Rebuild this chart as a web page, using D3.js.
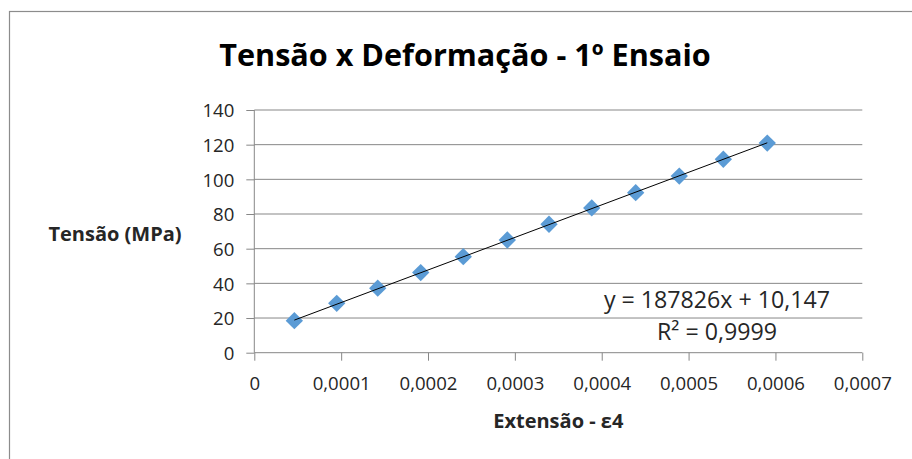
<!DOCTYPE html>
<html>
<head>
<meta charset="utf-8">
<script src="https://cdn.jsdelivr.net/npm/d3@7/dist/d3.min.js"></script>
<style>
  html, body { margin: 0; padding: 0; background: #fff; }
  svg { display: block; }
  text { font-family: "Open Sans", "Noto Sans", sans-serif; }
</style>
</head>
<body>
<svg id="chart" width="912" height="459"></svg>
<script>
// ---- data ----
const strainValues = [0.0000461, 0.0000949, 0.0001421, 0.0001916, 0.0002406, 0.0002913,
                      0.0003393, 0.0003885, 0.0004391, 0.0004893, 0.0005400, 0.0005906];
const stressValues = [18.5, 28.5, 37.2, 46.2, 55.4, 65.0, 74.1, 83.5, 92.3, 101.9, 111.6, 120.9];
const xTickValues = [0, 0.0001, 0.0002, 0.0003, 0.0004, 0.0005, 0.0006, 0.0007];
const xTickLabels = ["0", "0,0001", "0,0002", "0,0003", "0,0004", "0,0005", "0,0006", "0,0007"];
const yTickValues = [0, 20, 40, 60, 80, 100, 120, 140];
const yTickLabels = ["0", "20", "40", "60", "80", "100", "120", "140"];
const trendSlope = 187826;
const trendIntercept = 10.147;
const titleText = "Tensão x Deformação - 1º Ensaio";
const xAxisTitle = "Extensão - ε4";
const yAxisTitle = "Tensão (MPa)";
const equationLines = ["y = 187826x + 10,147", "R² = 0,9999"];

// ---- layout ----
const svg = d3.select("#chart");
const plot = { left: 254.3, right: 862.3, top: 110, bottom: 352.7 };
const gridColor = "#878787";
const textColor = "#262626";

// outer chart frame (runs off right and bottom edges)
svg.append("rect")
  .attr("x", 9.5).attr("y", 11.5)
  .attr("width", 1000).attr("height", 1000)
  .attr("fill", "none").attr("stroke", "#8c8c8c").attr("stroke-width", 1.2);

const x = d3.scaleLinear().domain([0, 0.0007]).range([plot.left, plot.right]);
const y = d3.scaleLinear().domain([0, 140]).range([plot.bottom, plot.top]);

// gridlines
svg.append("g").selectAll("line")
  .data(yTickValues.filter(v => v > 0))
  .join("line")
  .attr("x1", plot.left).attr("x2", plot.right)
  .attr("y1", d => y(d)).attr("y2", d => y(d))
  .attr("stroke", gridColor).attr("stroke-width", 1);

// y axis
const yAxis = d3.axisLeft(y)
  .tickValues(yTickValues)
  .tickFormat((d, i) => yTickLabels[i])
  .tickSize(8).tickPadding(12);
const gy = svg.append("g").attr("transform", `translate(${plot.left},0)`).call(yAxis);
gy.select(".domain").attr("stroke", gridColor).attr("d", `M-0,${plot.top}V${plot.bottom}`);
gy.selectAll(".tick line").attr("stroke", gridColor);
gy.selectAll(".tick text")
  .attr("font-size", 18.6).attr("fill", textColor)
  .attr("font-family", "'Open Sans', sans-serif")
  .attr("dy", "0.36em");

// x axis
const xAxis = d3.axisBottom(x)
  .tickValues(xTickValues)
  .tickFormat((d, i) => xTickLabels[i])
  .tickSize(8).tickPadding(16);
const gx = svg.append("g").attr("transform", `translate(0,${plot.bottom})`).call(xAxis);
gx.select(".domain").attr("stroke", gridColor).attr("d", `M${plot.left},0H${plot.right}`);
gx.selectAll(".tick line").attr("stroke", gridColor);
gx.selectAll(".tick text")
  .attr("font-size", 18.6).attr("fill", textColor)
  .attr("font-family", "'Open Sans', sans-serif");

// markers
const pts = strainValues.map((v, i) => ({ x: v, y: stressValues[i] }));
svg.append("g").selectAll("path")
  .data(pts)
  .join("path")
  .attr("d", d3.symbol(d3.symbolSquare, 150))
  .attr("transform", d => `translate(${x(d.x)},${y(d.y)}) rotate(45)`)
  .attr("fill", "#5B9BD5");

// linear trendline
const xMin = d3.min(strainValues), xMax = d3.max(strainValues);
const trend = [xMin, xMax].map(v => ({ x: v, y: trendSlope * v + trendIntercept }));
svg.append("path")
  .datum(trend)
  .attr("d", d3.line().x(d => x(d.x)).y(d => y(d.y)))
  .attr("fill", "none").attr("stroke", "#000").attr("stroke-width", 1);

// equation label
svg.append("g").selectAll("text")
  .data(equationLines)
  .join("text")
  .attr("x", 717).attr("y", (d, i) => 308 + i * 31.5)
  .attr("text-anchor", "middle")
  .attr("font-size", 23.2).attr("fill", textColor)
  .text(d => d);

// title
svg.append("text")
  .attr("x", 465).attr("y", 66)
  .attr("text-anchor", "middle")
  .attr("font-size", 30.6).attr("font-weight", "bold").attr("fill", "#000")
  .text(titleText);

// axis titles
svg.append("text")
  .attr("x", 115).attr("y", 241)
  .attr("text-anchor", "middle")
  .attr("font-size", 20).attr("font-weight", "bold").attr("fill", textColor)
  .text(yAxisTitle);

svg.append("text")
  .attr("x", 558.3).attr("y", 428)
  .attr("text-anchor", "middle")
  .attr("font-size", 20).attr("font-weight", "bold").attr("fill", textColor)
  .text(xAxisTitle);
</script>
</body>
</html>
